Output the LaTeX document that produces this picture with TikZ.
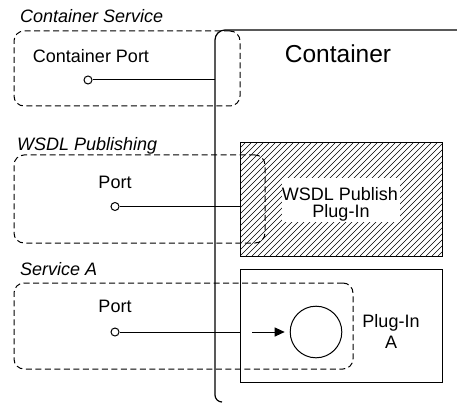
\documentclass[tikz,border=0pt]{standalone}
\usepackage{fontspec}
\setmainfont{Liberation Sans}
\usetikzlibrary{arrows.meta}
\begin{document}
\begin{tikzpicture}[x=1pt,y=-1pt,
  lbl/.style={anchor=base,inner sep=0pt,font=\fontsize{18}{21}\selectfont},
  grp/.style={anchor=base west,inner sep=0pt,font=\fontsize{18}{21}\selectfont\itshape},
  dashbox/.style={draw,dash pattern=on 6pt off 3.5pt,rounded corners=10pt,line width=1pt,anchor=north west,outer sep=0pt,inner sep=0pt},
  solidbox/.style={draw,line width=1pt,anchor=north west,outer sep=0pt,inner sep=0pt},
  portc/.style={draw,circle,fill=white,minimum size=8pt,inner sep=0pt,line width=1pt},
  conn/.style={line width=1pt}]
\useasboundingbox (0,0) rectangle (457,406);
% plug-in boxes
\node[solidbox,minimum width=202pt,minimum height=113pt] (wpb) at (240,143) {};
\begin{scope}
  \clip (240,143) rectangle (442,256);
  \foreach \x in {120,126,...,450} \draw[line width=0.65pt] (\x,256) -- (\x+113,143);
\end{scope}
\node[solidbox,minimum width=202pt,minimum height=113pt] at (240,143) {};
\fill[white] (282,178) rectangle (400,222);
\node[lbl] (wpt1) at (340,200) {WSDL Publish};
\node[lbl] (wpt2) at (341,217) {Plug-In};
\node[solidbox,minimum width=202pt,minimum height=113pt] (pab) at (240,269) {};
\node[lbl] (pat1) at (391,327) {Plug-In};
\node[lbl] (pat2) at (391,348) {A};
\node[draw,circle,minimum size=51.6pt,inner sep=0pt,line width=1pt] (bigc) at (316,332) {};
\coordinate (arrs) at (252,332);
\draw[conn,-{Triangle[length=10pt,width=9pt]}] (arrs) -- ([xshift=-5pt]bigc.west);
% container
\coordinate (ctop) at (215,30);
\draw[line width=1.2pt] (457,30) [rounded corners=10pt] -- (ctop) [rounded corners=7pt] -- (215,402) -- (222,402);
\node[anchor=base,inner sep=0pt,font=\fontsize{24.5}{29}\selectfont] (ctext) at (338,63) {Container};
% dashed groups
\node[dashbox,minimum width=226pt,minimum height=75pt] (cs) at (14,31) {};
\node[dashbox,minimum width=251pt,minimum height=88pt] (wp) at (14,155) {};
\node[dashbox,minimum width=339pt,minimum height=86pt] (sa) at (14,283) {};
\node[grp] (cst) at (20,23) {Container Service};
\node[grp] (wpt) at (17,150) {WSDL Publishing};
\node[grp] (sat) at (20,275) {Service A};
% ports
\node[lbl] (cpt) at (91,63) {Container Port};
\node[portc] (p1) at (88,80) {};
\draw[conn] (p1) -- (p1 -| ctop);
\node[lbl] (pt2) at (115,188) {Port};
\node[portc] (p2) at (115,206.5) {};
\draw[conn] (p2) -- (p2 -| wpb.west);
\node[lbl] (pt3) at (115,312) {Port};
\node[portc] (p3) at (115,332) {};
\draw[conn] (p3) -- (p3 -| pab.west);
\end{tikzpicture}
\end{document}
